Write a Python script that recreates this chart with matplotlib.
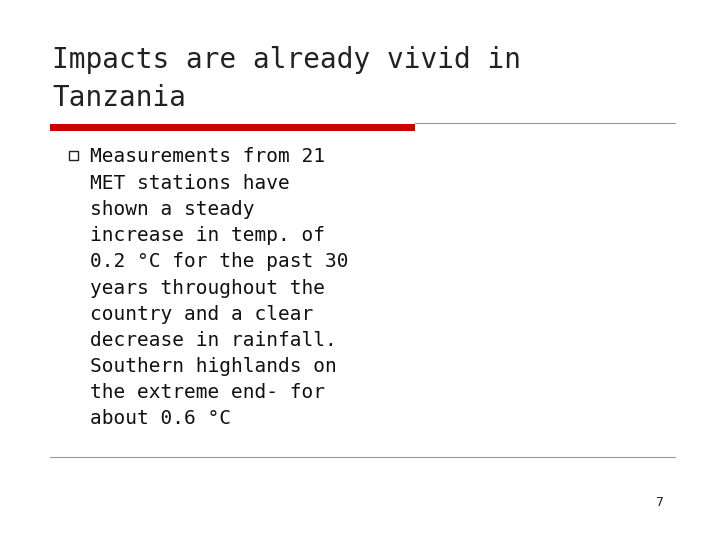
import matplotlib
matplotlib.use("Agg")
import matplotlib.pyplot as plt
from matplotlib.patches import Rectangle

W, H = 720, 540
TITLE = ["Impacts are already vivid in", "Tanzania"]
BODY = [
    "Measurements from 21",
    "MET stations have",
    "shown a steady",
    "increase in temp. of",
    "0.2 \u00b0C for the past 30",
    "years throughout the",
    "country and a clear",
    "decrease in rainfall.",
    "Southern highlands on",
    "the extreme end- for",
    "about 0.6 \u00b0C",
]
PAGE = "7"

fig = plt.figure(figsize=(7.2, 5.4), dpi=100)
ax = fig.add_axes([0, 0, 1, 1])
ax.set_xlim(0, W)
ax.set_ylim(H, 0)
ax.axis("off")

for i, line in enumerate(TITLE):
    ax.text(52, 60 + i * 38, line, fontsize=20, va="center", ha="left",
            family="DejaVu Sans Mono", color="#222222")

ax.add_patch(Rectangle((50, 124), 365, 7, color="#cc0000", lw=0))
ax.plot([415, 675], [123, 123], color="#999999", lw=0.8)

ax.add_patch(Rectangle((69, 151), 9, 9, fill=False, ec="#222222", lw=1.0))
for i, line in enumerate(BODY):
    ax.text(90, 157 + i * 26.2, line, fontsize=14, va="center", ha="left",
            family="DejaVu Sans Mono", color="#111111")

ax.plot([50, 675], [457, 457], color="#999999", lw=0.8)
ax.text(664, 502, PAGE, fontsize=9, ha="right", va="center", color="#222222")

fig.savefig("out.png", dpi=100)
